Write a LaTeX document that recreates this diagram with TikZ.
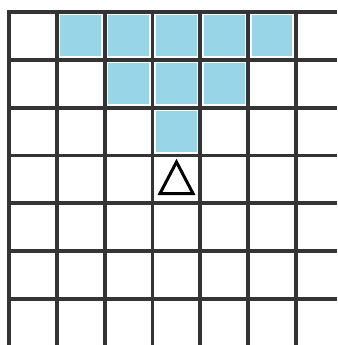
\documentclass[tikz,border=0pt]{standalone}
\definecolor{cellblue}{RGB}{152,214,231}
\definecolor{gridgray}{RGB}{52,52,52}
\tikzset{
  gridline/.style={draw=gridgray, line width=3.8pt},
  bluecell/.style={fill=cellblue},
  marker/.style={draw=black, line width=3pt, line join=miter}
}
\begin{document}
\begin{tikzpicture}[x=1pt,y=-1pt]
\useasboundingbox (0,0) rectangle (337,345);
\fill[white] (0,0) rectangle (337,345);
\def\cs{47.8}
% blue cells: (col,row) zero-based
\foreach \c/\r in {1/0,2/0,3/0,4/0,5/0,2/1,3/1,4/1,3/2}{
  \fill[bluecell] ({9+\c*\cs+3.5},{12+\r*\cs+3.5}) rectangle ({9+(\c+1)*\cs-3.5},{12+(\r+1)*\cs-3.5});
}
% grid lines
\foreach \i in {0,...,6}{
  \draw[gridline] ({9+\i*\cs},10.1) -- ({9+\i*\cs},345);
  \draw[gridline] (7.1,{12+\i*\cs}) -- (337,{12+\i*\cs});
}
% triangle marker
\coordinate (apex) at (176.5,162);
\coordinate (bl) at (160,193.5);
\coordinate (br) at (193,193.5);
\draw[marker] (apex) -- (bl) -- (br) -- cycle;
\end{tikzpicture}
\end{document}
